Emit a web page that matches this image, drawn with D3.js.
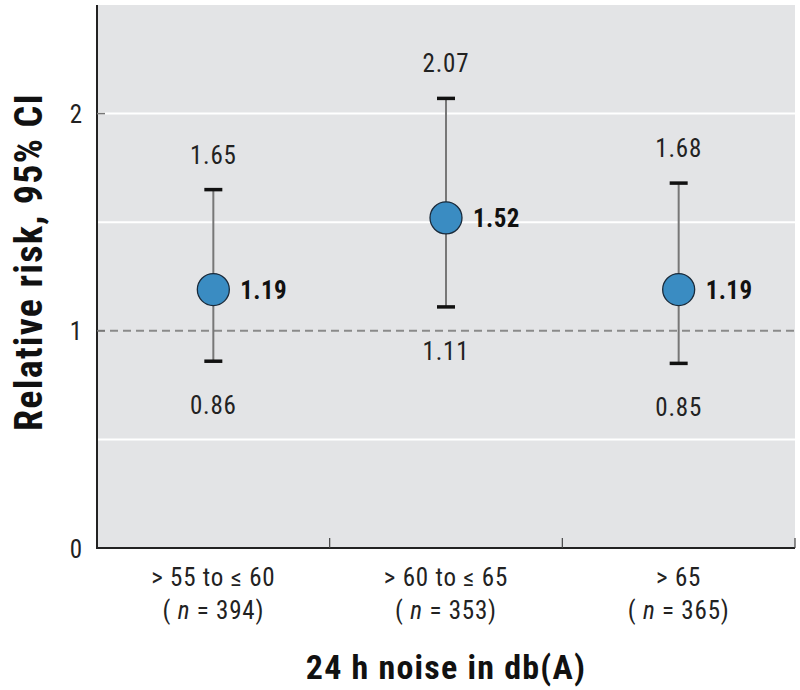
<!DOCTYPE html>
<html><head><meta charset="utf-8">
<script src="https://cdn.jsdelivr.net/npm/d3@7"></script>
<style>
body{margin:0;background:#fff;}
text{font-family:"Liberation Sans Narrow","Roboto Condensed","DejaVu Sans Condensed",sans-serif;}
</style></head>
<body><svg id="c" width="800" height="690"></svg>
<script>
const categories = ["> 55 to \u2264 60", "> 60 to \u2264 65", "> 65"];
const sampleN = [394, 353, 365];
const rr = [1.19, 1.52, 1.19];
const ciLow = [0.86, 1.11, 0.85];
const ciHigh = [1.65, 2.07, 1.68];
const yTicks = [0, 1, 2];
const gridVals = [0.5, 1.5, 2];

const svg = d3.select("#c");
const L = 97, R = 795, T = 5, B = 548;
const x = d3.scaleBand().domain(categories).range([L, R]);
const y = d3.scaleLinear().domain([0, 2.5]).range([B, T]);

svg.append("rect").attr("x", L).attr("y", T).attr("width", R - L).attr("height", B - T).attr("fill", "#e3e4e6");

svg.selectAll(".grid").data(gridVals).enter().append("line")
  .attr("x1", L).attr("x2", R).attr("y1", d => y(d)).attr("y2", d => y(d))
  .attr("stroke", "#fff").attr("stroke-width", 2);

svg.append("line").attr("x1", L).attr("x2", R).attr("y1", y(1)).attr("y2", y(1))
  .attr("stroke", "#8a8a8a").attr("stroke-width", 2).attr("stroke-dasharray", "8,5");

// y axis
const yAx = svg.append("g").attr("transform", `translate(${L},0)`)
  .call(d3.axisLeft(y).tickValues(yTicks).tickSize(0).tickPadding(15).tickFormat(d3.format("d")));
yAx.select(".domain").remove();
yAx.selectAll("text").attr("font-size", 25).attr("fill", "#222").attr("dy", "0.36em");
svg.append("line").attr("x1", L).attr("x2", L).attr("y1", T).attr("y2", B + 1).attr("stroke", "#222").attr("stroke-width", 2);
svg.selectAll(".ytk").data(yTicks).enter().append("line")
  .attr("x1", L).attr("x2", L + 8).attr("y1", d => y(d)).attr("y2", d => y(d)).attr("stroke", "#777").attr("stroke-width", 1.5);

// x axis
svg.append("line").attr("x1", L).attr("x2", R).attr("y1", B).attr("y2", B).attr("stroke", "#222").attr("stroke-width", 2);
const seps = categories.map(c => x(c) + x.bandwidth());
svg.selectAll(".xtk").data(seps).enter().append("line")
  .attr("x1", d => d).attr("x2", d => d).attr("y1", B).attr("y2", B - 10).attr("stroke", "#444").attr("stroke-width", 1.2);

const cx = c => x(c) + x.bandwidth() / 2;

svg.selectAll(".xl1").data(categories).enter().append("text")
  .attr("x", d => cx(d)).attr("y", 586).attr("text-anchor", "middle").attr("font-size", 25)
  .attr("letter-spacing", 0.8).attr("fill", "#222").text(d => d);
const xl2 = svg.selectAll(".xl2").data(categories).enter().append("text")
  .attr("x", d => cx(d)).attr("y", 619).attr("text-anchor", "middle").attr("font-size", 25)
  .attr("letter-spacing", 0.8).attr("fill", "#222");
xl2.each(function(d, i) {
  const t = d3.select(this);
  t.append("tspan").text("( ");
  t.append("tspan").attr("font-style", "italic").text("n");
  t.append("tspan").text(" = " + sampleN[i] + ")");
});

// error bars
const g = svg.selectAll(".pt").data(categories).enter().append("g");
g.append("line").attr("x1", d => cx(d)).attr("x2", d => cx(d))
  .attr("y1", (d, i) => y(ciLow[i])).attr("y2", (d, i) => y(ciHigh[i])).attr("stroke", "#777").attr("stroke-width", 2);
[ciLow, ciHigh].forEach(arr => {
  g.append("line").attr("x1", d => cx(d) - 9).attr("x2", d => cx(d) + 9)
    .attr("y1", (d, i) => y(arr[i])).attr("y2", (d, i) => y(arr[i])).attr("stroke", "#111").attr("stroke-width", 3.5);
});
g.append("circle").attr("cx", d => cx(d)).attr("cy", (d, i) => y(rr[i])).attr("r", 16)
  .attr("fill", "#3a8cc2").attr("stroke", "#1a2a3a").attr("stroke-width", 1.3);
g.append("text").attr("x", d => cx(d) + 27).attr("y", (d, i) => y(rr[i]) + 9)
  .attr("font-size", 25).attr("letter-spacing", 0.4).attr("font-weight", "bold").attr("fill", "#111").text((d, i) => rr[i].toFixed(2));
g.append("text").attr("x", d => cx(d)).attr("y", (d, i) => y(ciHigh[i]) - 26)
  .attr("text-anchor", "middle").attr("font-size", 25).attr("letter-spacing", 0.8).attr("fill", "#222").text((d, i) => ciHigh[i].toFixed(2));
g.append("text").attr("x", d => cx(d)).attr("y", (d, i) => y(ciLow[i]) + 53)
  .attr("text-anchor", "middle").attr("font-size", 25).attr("letter-spacing", 0.8).attr("fill", "#222").text((d, i) => ciLow[i].toFixed(2));

// titles
svg.append("text").attr("x", (L + R) / 2).attr("y", 679).attr("text-anchor", "middle")
  .attr("font-size", 34).attr("letter-spacing", 1.2).attr("font-weight", "bold").attr("fill", "#111").text("24 h noise in db(A)");
svg.append("text").attr("transform", `translate(42,262) rotate(-90)`).attr("text-anchor", "middle")
  .attr("font-size", 38).attr("letter-spacing", 1.3).attr("font-weight", "bold").attr("fill", "#111").text("Relative risk, 95% CI");
</script></body></html>
